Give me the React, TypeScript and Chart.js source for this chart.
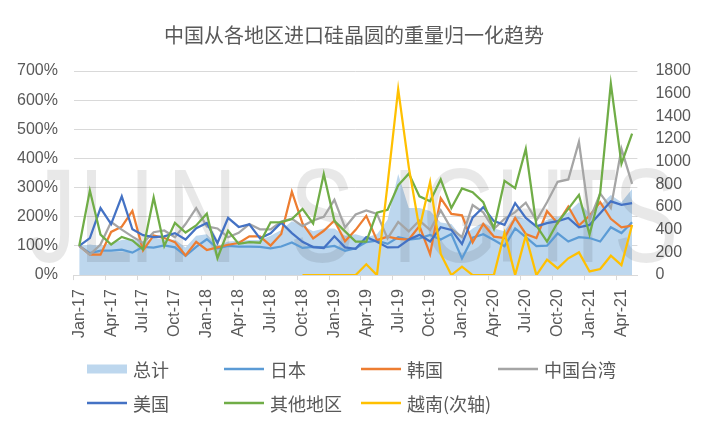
import React, { useEffect, useRef } from "react";
import { Chart, registerables } from "chart.js";

Chart.register(...registerables);

const TITLE = "中国从各地区进口硅晶圆的重量归一化趋势";

const months: string[] = [
  "Jan-17", "Feb-17", "Mar-17", "Apr-17", "May-17", "Jun-17", "Jul-17", "Aug-17", "Sep-17", "Oct-17", "Nov-17", "Dec-17",
  "Jan-18", "Feb-18", "Mar-18", "Apr-18", "May-18", "Jun-18", "Jul-18", "Aug-18", "Sep-18", "Oct-18", "Nov-18", "Dec-18",
  "Jan-19", "Feb-19", "Mar-19", "Apr-19", "May-19", "Jun-19", "Jul-19", "Aug-19", "Sep-19", "Oct-19", "Nov-19", "Dec-19",
  "Jan-20", "Feb-20", "Mar-20", "Apr-20", "May-20", "Jun-20", "Jul-20", "Aug-20", "Sep-20", "Oct-20", "Nov-20", "Dec-20",
  "Jan-21", "Feb-21", "Mar-21", "Apr-21", "May-21",
];

// values in percent (left axis)
const total: number[] = [
  100, 105, 100, 110, 120, 125, 110, 130, 120, 122, 95, 135,
  140, 100, 115, 118, 120, 120, 135, 155, 185, 170, 150, 160,
  160, 135, 140, 130, 140, 190, 347, 230, 230, 220, 180, 175,
  130, 160, 180, 160, 150, 205, 190, 170, 190, 200, 215, 250,
  210, 240, 275, 250, 295,
];
const japan: number[] = [
  100, 75, 84, 84, 87, 77, 97, 94, 102, 95, 66, 97,
  123, 92, 100, 98, 98, 97, 92, 98, 112, 93, 97, 95,
  100, 83, 92, 113, 118, 107, 130, 122, 126, 138, 122, 141,
  57, 128, 140, 120, 99, 160, 130, 99, 101, 143, 115, 130,
  127, 115, 164, 144, 181,
];
const korea: number[] = [
  100, 70, 70, 148, 166, 220, 85, 136, 127, 113, 67, 114,
  86, 95, 104, 110, 133, 133, 101, 141, 286, 177, 126, 152,
  187, 116, 155, 203, 120, 132, 124, 122, 168, 72, 264, 210,
  205, 112, 175, 132, 127, 196, 141, 127, 219, 178, 235, 170,
  204, 250, 193, 164, 170,
];
const taiwan: number[] = [
  100, 70, 105, 182, 156, 132, 110, 147, 153, 130, 175, 230,
  167, 160, 130, 145, 175, 157, 157, 184, 193, 168, 187, 200,
  258, 163, 208, 222, 210, 126, 182, 150, 187, 155, 222, 159,
  130, 240, 215, 158, 193, 216, 248, 187, 250, 320, 328, 457,
  190, 280, 230, 433, 313,
];
const usa: number[] = [
  100, 127, 230, 175, 270, 157, 137, 130, 133, 144, 122, 161,
  179, 110, 196, 165, 174, 126, 143, 180, 144, 114, 96, 93,
  133, 95, 90, 130, 114, 95, 96, 122, 138, 115, 164, 155,
  107, 197, 233, 185, 172, 247, 196, 167, 178, 185, 196, 164,
  172, 212, 253, 241, 247,
];
const others: number[] = [
  100, 290, 139, 105, 131, 119, 88, 266, 100, 179, 146, 170,
  211, 58, 152, 107, 113, 111, 181, 182, 192, 227, 177, 347,
  186, 150, 115, 115, 214, 224, 308, 348, 270, 253, 328, 230,
  297, 284, 250, 160, 323, 298, 433, 170, 115, 181, 227, 275,
  139, 282, 657, 382, 485,
];
// right axis (secondary)
const vietnam: (number | null)[] = [
  null, null, null, null, null, null, null, null, null, null, null, null,
  null, null, null, null, null, null, null, null, null, 0, 0, 0,
  0, 0, 0, 95, 0, 800, 1640, 950, 410, 820, 186, 0,
  74, 0, 0, 0, 372, 0, 348, 0, 136, 59, 148, 200,
  32, 53, 171, 88, 442,
];

const leftTicks = { min: 0, max: 700, step: 100 };
const rightTicks = { min: 0, max: 1800, step: 200 };

const seriesNames = ["总计", "日本", "韩国", "中国台湾", "美国", "其他地区", "越南(次轴)"];
const seriesColors = ["#BDD7EE", "#5B9BD5", "#ED7D31", "#A5A5A5", "#4472C4", "#70AD47", "#FFC000"];

const FONT = '"Liberation Sans", "Noto Sans CJK SC", sans-serif';
const CJK = '"Noto Sans CJK SC", "Liberation Sans", sans-serif';
const TEXT = "#595959";
const GRID = "#D9D9D9";

const watermark = [
  { ch: "J", x: 52 }, { ch: "L", x: 106 }, { ch: "I", x: 142 }, { ch: "N", x: 202 },
  { ch: "S", x: 322 }, { ch: "I", x: 405 }, { ch: "G", x: 460 }, { ch: "H", x: 530 },
  { ch: "T", x: 588 }, { ch: "S", x: 646 },
];

const decorPlugin = {
  id: "decor",
  afterDatasetDraw(chart: any, args: any) {
    if (args.index !== 0) return;
    const ctx = chart.ctx;
    ctx.save();
    ctx.fillStyle = "rgba(0,0,0,0.09)";
    ctx.font = `133px "Liberation Sans", sans-serif`;
    ctx.textAlign = "center";
    ctx.textBaseline = "alphabetic";
    for (const w of watermark) {
      ctx.save();
      ctx.translate(w.x, 262);
      ctx.scale(0.73, 1);
      ctx.fillText(w.ch, 0, 0);
      ctx.restore();
    }
    ctx.restore();
  },
  afterDraw(chart: any) {
    const ctx = chart.ctx;
    ctx.save();
    ctx.fillStyle = TEXT;
    ctx.font = `20px ${CJK}`;
    ctx.textAlign = "center";
    ctx.textBaseline = "middle";
    ctx.fillText(TITLE, 354, 35);

    const colX = [87, 224, 361, 498];
    const rowY = [369, 403];
    ctx.font = `18px ${CJK}`;
    ctx.textAlign = "left";
    seriesNames.forEach((name, i) => {
      const col = i % 4;
      const row = Math.floor(i / 4);
      const x = colX[col];
      const y = rowY[row];
      ctx.fillStyle = seriesColors[i];
      if (i === 0) ctx.fillRect(x, y - 4.5, 40, 9);
      else ctx.fillRect(x, y - 1.25, 40, 2.5);
      ctx.fillStyle = TEXT;
      ctx.fillText(name, x + 46, y + 1);
    });
    ctx.restore();
  },
};

export default function App() {
  const ref = useRef<HTMLCanvasElement | null>(null);
  useEffect(() => {
    if (!ref.current) return;
    const lineDs = (idx: number, data: (number | null)[], order: number, axis = "y") => ({
      type: "line" as const,
      label: seriesNames[idx],
      data,
      borderColor: seriesColors[idx],
      backgroundColor: seriesColors[idx],
      borderWidth: 2.25,
      pointRadius: 0,
      tension: 0,
      fill: false,
      yAxisID: axis,
      order,
      spanGaps: false,
    });
    const chart = new Chart(ref.current, {
      type: "line",
      data: {
        labels: months,
        datasets: [
          {
            type: "line",
            label: seriesNames[0],
            data: total,
            borderWidth: 0,
            borderColor: "rgba(0,0,0,0)",
            backgroundColor: seriesColors[0],
            pointRadius: 0,
            tension: 0,
            fill: "origin",
            yAxisID: "y",
            order: 10,
          },
          lineDs(1, japan, 6),
          lineDs(2, korea, 5),
          lineDs(3, taiwan, 4),
          lineDs(4, usa, 3),
          lineDs(5, others, 2),
          lineDs(6, vietnam, 1, "y1"),
        ] as any,
      },
      options: {
        animation: false,
        responsive: false,
        maintainAspectRatio: false,
        layout: { padding: { top: 71, bottom: 84, left: 1, right: -3 } },
        plugins: {
          legend: { display: false },
          title: { display: false },
          tooltip: { enabled: false },
        },
        scales: {
          x: {
            offset: true,
            grid: {
              offset: true,
              drawOnChartArea: false,
              drawTicks: true,
              tickLength: 5,
              tickColor: (c: any) => (c.index % 3 === 0 ? GRID : "rgba(0,0,0,0)"),
              color: GRID,
            },
            border: { display: true, color: GRID, width: 1 },
            ticks: {
              autoSkip: false,
              maxRotation: 90,
              minRotation: 90,
              padding: 9,
              color: TEXT,
              font: { family: FONT, size: 16 },
              callback: (_v: any, i: number) => (i % 3 === 0 ? months[i] : ""),
            },
          },
          y: {
            position: "left",
            min: leftTicks.min,
            max: leftTicks.max,
            grid: { color: GRID, drawTicks: false, lineWidth: 1 },
            border: { display: false },
            ticks: {
              stepSize: leftTicks.step,
              autoSkip: false,
              padding: 16,
              color: TEXT,
              font: { family: FONT, size: 16 },
              callback: (v: any) => `${v}%`,
            },
          },
          y1: {
            position: "right",
            min: rightTicks.min,
            max: rightTicks.max,
            grid: { drawOnChartArea: false, drawTicks: false },
            border: { display: false },
            ticks: {
              stepSize: rightTicks.step,
              autoSkip: false,
              padding: 18,
              color: TEXT,
              font: { family: FONT, size: 16 },
              callback: (v: any) => String(v),
            },
          },
        },
      } as any,
      plugins: [decorPlugin],
    });
    return () => chart.destroy();
  }, []);
  return (
    <div style={{ position: "absolute", left: 0, top: 0, width: 706, height: 431, background: "#fff" }}>
      <canvas ref={ref} width={706} height={431} style={{ display: "block" }} />
    </div>
  );
}
